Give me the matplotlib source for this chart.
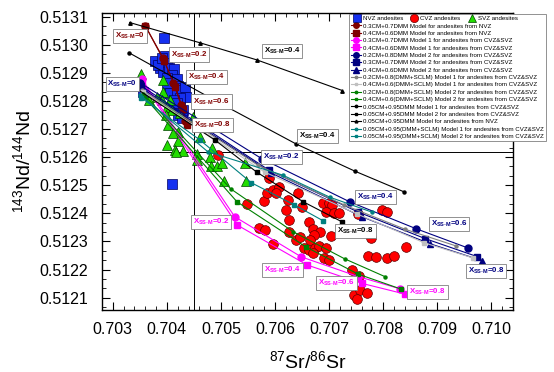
import matplotlib
matplotlib.use('Agg')
import matplotlib.pyplot as plt
from matplotlib.lines import Line2D
from matplotlib.ticker import MultipleLocator, AutoMinorLocator

plt.rcParams['font.family'] = ['Liberation Sans', 'DejaVu Sans']
plt.rcParams['mathtext.fontset'] = 'custom'
plt.rcParams['mathtext.rm'] = 'Liberation Sans'
plt.rcParams['mathtext.bf'] = 'Liberation Sans:bold'
plt.rcParams['mathtext.it'] = 'Liberation Sans:italic'

# ---- samples ----
nvz_sr = [0.703955, 0.703785, 0.703876, 0.703968, 0.704010, 0.703864, 0.703937, 0.704047,
          0.704134, 0.704091, 0.704010, 0.704183, 0.704213, 0.704152, 0.704029, 0.704060,
          0.704183, 0.704275, 0.704336, 0.704354, 0.704244, 0.704134, 0.704091, 0.704244,
          0.704304, 0.704213, 0.704275, 0.704183, 0.703999, 0.703827, 0.703908, 0.703564,
          0.704102]
nvz_nd = [0.513025, 0.512942, 0.512928, 0.512960, 0.512934, 0.512916, 0.512904, 0.512916,
          0.512913, 0.512893, 0.512881, 0.512877, 0.512853, 0.512845, 0.512851, 0.512827,
          0.512830, 0.512839, 0.512849, 0.512815, 0.512810, 0.512804, 0.512780, 0.512778,
          0.512768, 0.512750, 0.512738, 0.512792, 0.512863, 0.512928, 0.512952, 0.512832,
          0.512505]

cvz_sr = [0.704947, 0.705488, 0.705793, 0.705695, 0.705818, 0.705971, 0.705879, 0.705855,
          0.705958, 0.706068, 0.706020, 0.706234, 0.706204, 0.706265, 0.706252, 0.706388,
          0.706417, 0.706498, 0.706461, 0.706619, 0.706693, 0.706829, 0.706724, 0.706645,
          0.706540, 0.706632, 0.706742, 0.706816, 0.706939, 0.706693, 0.706908, 0.707000,
          0.707042, 0.706884, 0.707000, 0.707060, 0.706950, 0.707091, 0.707183, 0.707532,
          0.707766, 0.707716, 0.707869, 0.708071, 0.708194, 0.708427, 0.707979, 0.708071,
          0.707417, 0.707551, 0.707459, 0.707569, 0.707703, 0.707520]
cvz_nd = [0.512608, 0.512433, 0.512444, 0.512349, 0.512341, 0.512291, 0.512525, 0.512474,
          0.512483, 0.512495, 0.512472, 0.512448, 0.512412, 0.512377, 0.512335, 0.512305,
          0.512474, 0.512422, 0.512317, 0.512370, 0.512343, 0.512335, 0.512323, 0.512305,
          0.512276, 0.512270, 0.512278, 0.512282, 0.512276, 0.512258, 0.512240, 0.512234,
          0.512321, 0.512436, 0.512438, 0.512429, 0.512406, 0.512402, 0.512402, 0.512398,
          0.512311, 0.512249, 0.512243, 0.512240, 0.512248, 0.512279, 0.512412, 0.512406,
          0.512199, 0.512177, 0.512110, 0.512128, 0.512118, 0.512095]

svz_sr = [0.703527, 0.703937, 0.703937, 0.703816, 0.703908, 0.704060, 0.704010, 0.704091,
          0.704244, 0.704488, 0.703987, 0.704029, 0.704213, 0.704121, 0.703999, 0.704213,
          0.704152, 0.704304, 0.704611, 0.704826, 0.703661, 0.704165, 0.704551, 0.704562,
          0.704795, 0.704808, 0.704918, 0.705010, 0.705052, 0.705438, 0.705469]
svz_nd = [0.512896, 0.512875, 0.512833, 0.512815, 0.512804, 0.512804, 0.512780, 0.512768,
          0.512756, 0.512742, 0.512750, 0.512715, 0.512691, 0.512685, 0.512643, 0.512659,
          0.512626, 0.512623, 0.512671, 0.512632, 0.512804, 0.512620, 0.512611, 0.512590,
          0.512600, 0.512569, 0.512569, 0.512578, 0.512516, 0.512578, 0.512516]

# ---- mixing models, X_SS-M = 0, 0.2, 0.4, 0.6, 0.8 ----
nvz03_sr = [0.703601, 0.703926, 0.704121, 0.704262, 0.704336]
nvz03_nd = [0.513067, 0.512954, 0.512865, 0.512785, 0.512729]
nvz04_sr = [0.703601, 0.703950, 0.704152, 0.704299, 0.704367]
nvz04_nd = [0.513067, 0.512942, 0.512850, 0.512772, 0.512715]

m1_03_sr = [0.703540, 0.705254, 0.706485, 0.707538, 0.708317]
m1_03_nd = [0.512877, 0.512388, 0.512245, 0.512175, 0.512131]
m1_04_sr = [0.703546, 0.705304, 0.706595, 0.707600, 0.708396]
m1_04_nd = [0.512868, 0.512358, 0.512216, 0.512151, 0.512113]

m2_02_sr = [0.703509, 0.705750, 0.707380, 0.708611, 0.709577]
m2_02_nd = [0.512864, 0.512595, 0.512441, 0.512345, 0.512276]
m2_03_sr = [0.703527, 0.705884, 0.707532, 0.708776, 0.709737]
m2_03_nd = [0.512853, 0.512554, 0.512405, 0.512310, 0.512246]
m2_04_sr = [0.703527, 0.705934, 0.707606, 0.708861, 0.709835]
m2_04_nd = [0.512846, 0.512543, 0.512388, 0.512292, 0.512231]

sc1_02_sr = [0.703546, 0.705677, 0.707275, 0.708409, 0.709346]
sc1_02_nd = [0.512839, 0.512572, 0.512430, 0.512343, 0.512284]
sc1_04_sr = [0.703564, 0.705806, 0.707514, 0.708758, 0.709663]
sc1_04_nd = [0.512832, 0.512547, 0.512398, 0.512295, 0.512241]
sc2_02_sr = [0.703566, 0.705181, 0.706338, 0.707288, 0.708029]
sc2_02_nd = [0.512825, 0.512487, 0.512334, 0.512238, 0.512175]
sc2_04_sr = [0.703582, 0.705297, 0.706564, 0.707532, 0.708335]
sc2_04_nd = [0.512814, 0.512441, 0.512281, 0.512184, 0.512130]

d05_m1_sr = [0.703294, 0.704942, 0.706388, 0.707477, 0.708378]
d05_m1_nd = [0.512972, 0.512796, 0.512647, 0.512550, 0.512477]
d05_m2_sr = [0.703417, 0.704887, 0.705659, 0.706522, 0.707244]
d05_m2_nd = [0.512846, 0.512661, 0.512547, 0.512441, 0.512369]
d05_nvz_sr = [0.703313, 0.704611, 0.705664, 0.707244]
d05_nvz_nd = [0.513079, 0.513007, 0.512946, 0.512837]
s05_m1_sr = [0.703509, 0.704758, 0.706142, 0.707018, 0.707795]
s05_m1_nd = [0.512821, 0.512619, 0.512536, 0.512457, 0.512404]
s05_m2_sr = [0.703527, 0.704611, 0.705561, 0.706357, 0.706884]
s05_m2_nd = [0.512811, 0.512661, 0.512509, 0.512430, 0.512374]

models = [
    (nvz03_sr, nvz03_nd, '#800000', 'o', 5, '0.3CM+0.7DMM Model for andesites from NVZ'),
    (nvz04_sr, nvz04_nd, '#800000', 's', 5, '0.4CM+0.6DMM Model for andesites from NVZ'),
    (m1_03_sr, m1_03_nd, '#ff00ff', 'o', 5, '0.3CM+0.7DMM Model 1 for andesites from CVZ&SVZ'),
    (m1_04_sr, m1_04_nd, '#ff00ff', 's', 5, '0.4CM+0.6DMM Model 1 for andesites from CVZ&SVZ'),
    (m2_02_sr, m2_02_nd, '#000080', 'o', 5, '0.2CM+0.8DMM Model 2 for andesites from CVZ&SVZ'),
    (m2_03_sr, m2_03_nd, '#000080', 's', 5, '0.3CM+0.7DMM Model 2 for andesites from CVZ&SVZ'),
    (m2_04_sr, m2_04_nd, '#000080', '^', 5, '0.4CM+0.6DMM Model 2 for andesites from CVZ&SVZ'),
    (sc1_02_sr, sc1_02_nd, '#808080', 'o', 2.2, '0.2CM+0.8(DMM+SCLM) Model 1 for andesites from CVZ&SVZ'),
    (sc1_04_sr, sc1_04_nd, '#c0c0c0', 's', 2.2, '0.4CM+0.6(DMM+SCLM) Model 1 for andesites from CVZ&SVZ'),
    (sc2_02_sr, sc2_02_nd, '#008000', 'o', 2.2, '0.2CM+0.8(DMM+SCLM) Model 2 for andesites from CVZ&SVZ'),
    (sc2_04_sr, sc2_04_nd, '#008000', 's', 2.2, '0.4CM+0.6(DMM+SCLM) Model 2 for andesites from CVZ&SVZ'),
    (d05_m1_sr, d05_m1_nd, '#000000', 'o', 2.2, '0.05CM+0.95DMM Model 1 for andesites from CVZ&SVZ'),
    (d05_m2_sr, d05_m2_nd, '#000000', 's', 2.2, '0.05CM+0.95DMM Model 2 for andesites from CVZ&SVZ'),
    (d05_nvz_sr, d05_nvz_nd, '#000000', '^', 2.5, '0.05CM+0.95DMM Model for andesites from NVZ'),
    (s05_m1_sr, s05_m1_nd, '#008080', 'o', 2.2, '0.05CM+0.95(DMM+SCLM) Model 1 for andesites from CVZ&SVZ'),
    (s05_m2_sr, s05_m2_nd, '#008080', 's', 2.2, '0.05CM+0.95(DMM+SCLM) Model 2 for andesites from CVZ&SVZ'),
]

# X_SS-M labels: (value, sr, nd, colour)
tags = [
    ('0', 0.703316, 0.513031, '#800000'), ('0.2', 0.704409, 0.512965, '#800000'),
    ('0.4', 0.704735, 0.512886, '#800000'), ('0.6', 0.704820, 0.512798, '#800000'),
    ('0.8', 0.704842, 0.512715, '#800000'),
    ('0.4', 0.706127, 0.512978, '#000000'), ('0.4', 0.706780, 0.512675, '#000000'),
    ('0.8', 0.707490, 0.512336, '#000000'),
    ('0', 0.703178, 0.512859, '#000080'), ('0.2', 0.706118, 0.512601, '#000080'),
    ('0.4', 0.707857, 0.512459, '#000080'), ('0.6', 0.709213, 0.512362, '#000080'),
    ('0.8', 0.709902, 0.512194, '#000080'),
    ('0.2', 0.704820, 0.512368, '#ff00ff'), ('0.4', 0.706136, 0.512199, '#ff00ff'),
    ('0.6', 0.707134, 0.512152, '#ff00ff'), ('0.8', 0.708819, 0.512119, '#ff00ff'),
]

ref_sr = 0.7045
ref_nd = 0.51262

fig = plt.figure(figsize=(5.54, 3.72), dpi=100)
ax = fig.add_axes([0.1841, 0.1667, 0.7419, 0.7984])

ax.axvline(ref_sr, color='black', lw=0.7, zorder=1)
ax.axhline(ref_nd, color='black', lw=0.7, zorder=1)

h_nvz, = ax.plot(nvz_sr, nvz_nd, 's', ms=6.5, mfc='#1530f0', mec='#000060', mew=0.5,
                 ls='none', zorder=2, label='NVZ andesites')
h_cvz, = ax.plot(cvz_sr, cvz_nd, 'o', ms=7, mfc='#ff0000', mec='#600000', mew=0.5,
                 ls='none', zorder=2, label='CVZ andesites')
h_svz, = ax.plot(svz_sr, svz_nd, '^', ms=7, mfc='#22dd00', mec='#004000', mew=0.5,
                 ls='none', zorder=2, label='SVZ andesites')

line_handles = []
for sr, nd, col, mk, ms, lab in models:
    h, = ax.plot(sr, nd, color=col, marker=mk, ms=ms, mec=col, mfc=col, lw=0.8,
                 zorder=3, label=lab)
    line_handles.append(h)

for val, sr, nd, col in tags:
    ax.text(sr, nd, 'X$_{\\mathbf{SS\\text{-}M}}$=' + val, color=col, fontsize=5.7,
            fontweight='bold', ha='center', va='center', zorder=5,
            bbox=dict(boxstyle='square,pad=0.25', fc='white', ec='#808080', lw=0.6))

ax.set_xlim(0.7028, 0.7104)
ax.set_ylim(0.512056, 0.513113)
ax.xaxis.set_major_locator(MultipleLocator(0.001))
ax.xaxis.set_minor_locator(AutoMinorLocator(5))
ax.yaxis.set_major_locator(MultipleLocator(0.0001))
ax.yaxis.set_minor_locator(AutoMinorLocator(3))
ax.xaxis.set_major_formatter(plt.FuncFormatter(lambda v, p: f'{v:.3f}'))
ax.yaxis.set_major_formatter(plt.FuncFormatter(lambda v, p: f'{v:.4f}'))
ax.tick_params(which='both', direction='in', top=True, right=True, labelsize=11.5)
ax.tick_params(which='major', length=6, width=0.8)
ax.tick_params(which='minor', length=3, width=0.6)
ax.tick_params(axis='x', which='major', pad=9)
ax.tick_params(axis='y', which='major', pad=10)
for s in ax.spines.values():
    s.set_linewidth(1.0)

ax.set_xlabel('$^{87}$Sr/$^{86}$Sr', fontsize=14, labelpad=9)
ax.set_ylabel('$^{143}$Nd/$^{144}$Nd', fontsize=14, labelpad=4)

blank = Line2D([], [], ls='none')
leg = ax.legend([blank] + line_handles, [' '] + [h.get_label() for h in line_handles],
                loc='upper left', bbox_to_anchor=(349 / 554, 1 - 14 / 372),
                bbox_transform=fig.transFigure, borderaxespad=0, fontsize=4.45,
                labelspacing=0.33, handlelength=1.7, handletextpad=0.3,
                borderpad=0.3, fancybox=False, edgecolor='#808080', framealpha=1,
                markerscale=0.8)
leg.get_frame().set_linewidth(0.6)
leg.set_zorder(10)
ax.add_artist(leg)
leg2 = ax.legend([h_nvz, h_cvz, h_svz], ['NVZ andesites', 'CVZ andesites', 'SVZ andesites'],
                 loc='upper left', bbox_to_anchor=(351 / 554, 1 - 14 / 372),
                 bbox_transform=fig.transFigure, borderaxespad=0, fontsize=4.45,
                 ncol=3, columnspacing=1.2, handlelength=1.2, handletextpad=0.4,
                 borderpad=0.3, frameon=False, markerscale=0.85)
leg2.set_zorder(11)

fig.savefig('out.png', dpi=100)
